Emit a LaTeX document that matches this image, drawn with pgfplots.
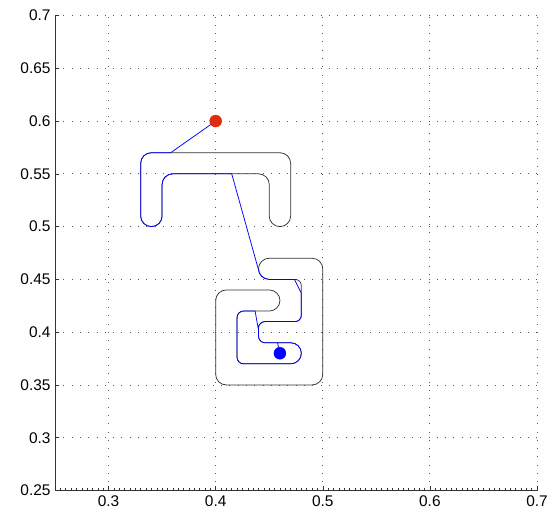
\documentclass[border=0pt]{standalone}
\usepackage{fontspec}
\setmainfont{Liberation Sans}
\usepackage{pgfplots}
\pgfplotsset{compat=1.18}
\definecolor{startred}{RGB}{222,45,16}
\begin{document}
\begin{tikzpicture}
\path[use as bounding box] (0,0) rectangle (551bp,521bp);
\begin{axis}[
  at={(55bp,30.5bp)}, anchor=south west,
  scale only axis, width=482bp, height=475bp,
  xmin=0.25, xmax=0.7, ymin=0.25, ymax=0.7,
  axis x line*=bottom, axis y line*=left,
  axis line style={line width=0.6bp, black!80},
  xtick={0.3,0.4,0.5,0.6,0.7},
  ytick={0.25,0.3,0.35,0.4,0.45,0.5,0.55,0.6,0.65,0.7},
  minor xtick={0.255,0.26,...,0.7},
  tick align=inside,
  major tick length=4bp, minor tick length=2bp,
  tick style={line width=0.5bp, black!80},
  grid=major,
  major grid style={line width=0.8bp, black!65, dash pattern=on 0.8bp off 7.5bp},
  minor grid style={draw=none},
  /pgf/number format/fixed,
  /pgf/number format/assume math mode=true,
  tick label style={font=\fontsize{15.5}{18}\selectfont},
  yticklabel style={xshift=-1bp},
  xticklabel style={yshift=-2bp},
  clip=false,
]
% upper obstacle
\addplot[black!80, line width=0.75bp] coordinates {
(0.33,0.51) (0.33,0.56) (0.33076,0.56383) (0.33293,0.56707) (0.33617,0.56924) (0.34,0.57)
(0.46,0.57) (0.46383,0.56924) (0.46707,0.56707) (0.46924,0.56383) (0.47,0.56)
(0.47,0.51) (0.46924,0.50617) (0.46707,0.50293) (0.46383,0.50076) (0.46,0.50) (0.45617,0.50076) (0.45293,0.50293) (0.45076,0.50617) (0.45,0.51)
(0.45,0.54) (0.44924,0.54383) (0.44707,0.54707) (0.44383,0.54924) (0.44,0.55)
(0.36,0.55) (0.35617,0.54924) (0.35293,0.54707) (0.35076,0.54383) (0.35,0.54)
(0.35,0.51) (0.34924,0.50617) (0.34707,0.50293) (0.34383,0.50076) (0.34,0.50) (0.33617,0.50076) (0.33293,0.50293) (0.33076,0.50617) (0.33,0.51)
};
% lower obstacle
\addplot[black!80, line width=0.75bp] coordinates {
(0.45,0.47) (0.49,0.47) (0.49383,0.46924) (0.49707,0.46707) (0.49924,0.46383) (0.50,0.46)
(0.50,0.36) (0.49924,0.35617) (0.49707,0.35293) (0.49383,0.35076) (0.49,0.35)
(0.41,0.35) (0.40617,0.35076) (0.40293,0.35293) (0.40076,0.35617) (0.40,0.36)
(0.40,0.43) (0.40076,0.43383) (0.40293,0.43707) (0.40617,0.43924) (0.41,0.44)
(0.45,0.44) (0.45383,0.43924) (0.45707,0.43707) (0.45924,0.43383) (0.46,0.43) (0.45924,0.42617) (0.45707,0.42293) (0.45383,0.42076) (0.45,0.42)
(0.426,0.42) (0.4237,0.41954) (0.42176,0.41824) (0.42046,0.4163) (0.42,0.414)
(0.42,0.376) (0.42046,0.3737) (0.42176,0.37176) (0.4237,0.37046) (0.426,0.37)
(0.47,0.37) (0.47383,0.37076) (0.47707,0.37293) (0.47924,0.37617) (0.48,0.38) (0.47924,0.38383) (0.47707,0.38707) (0.47383,0.38924) (0.47,0.39)
(0.446,0.39) (0.4437,0.39046) (0.44176,0.39176) (0.44046,0.3937) (0.44,0.396)
(0.44,0.404) (0.44046,0.4063) (0.44176,0.40824) (0.4437,0.40954) (0.446,0.41)
(0.474,0.41) (0.4763,0.41046) (0.47824,0.41176) (0.47954,0.4137) (0.48,0.416)
(0.48,0.444) (0.47954,0.4463) (0.47824,0.44824) (0.4763,0.44954) (0.474,0.45)
(0.45,0.45) (0.44617,0.45076) (0.44293,0.45293) (0.44076,0.45617) (0.44,0.46) (0.44076,0.46383) (0.44293,0.46707) (0.44617,0.46924) (0.45,0.47)
};
% robot path
\addplot[blue, line width=0.75bp] coordinates {
(0.40,0.60) (0.358,0.57)
(0.34,0.57) (0.33617,0.56924) (0.33293,0.56707) (0.33076,0.56383) (0.33,0.56)
(0.33,0.51) (0.33076,0.50617) (0.33293,0.50293) (0.33617,0.50076) (0.34,0.50) (0.34383,0.50076) (0.34707,0.50293) (0.34924,0.50617) (0.35,0.51)
(0.35,0.54) (0.35076,0.54383) (0.35293,0.54707) (0.35617,0.54924) (0.36,0.55)
(0.415,0.55)
(0.44083,0.456) (0.44293,0.45293) (0.44617,0.45076) (0.45,0.45)
(0.4735,0.45) (0.48,0.437)
(0.48,0.416) (0.47954,0.4137) (0.47824,0.41176) (0.4763,0.41046) (0.474,0.41)
(0.446,0.41) (0.4437,0.40954) (0.44176,0.40824) (0.44046,0.4063) (0.44,0.404)
(0.44,0.402) (0.4368,0.42)
(0.426,0.42) (0.4237,0.41954) (0.42176,0.41824) (0.42046,0.4163) (0.42,0.414)
(0.42,0.376) (0.42046,0.3737) (0.42176,0.37176) (0.4237,0.37046) (0.426,0.37)
(0.47,0.37) (0.47383,0.37076) (0.47707,0.37293) (0.47924,0.37617) (0.48,0.38) (0.47924,0.38383) (0.47707,0.38707) (0.47383,0.38924) (0.47,0.39)
(0.446,0.39) (0.4437,0.39046) (0.44176,0.39176) (0.44046,0.3937) (0.44,0.396)
(0.44,0.402) (0.44,0.396)
(0.44046,0.3937) (0.44176,0.39176) (0.4437,0.39046) (0.446,0.39)
(0.4577,0.39) (0.46,0.38)
};
% start and goal
\addplot[only marks, mark=*, mark size=6bp, color=startred] coordinates {(0.40,0.60)};
\addplot[only marks, mark=*, mark size=6bp, color=blue] coordinates {(0.46,0.38)};
\end{axis}
\end{tikzpicture}
\end{document}
